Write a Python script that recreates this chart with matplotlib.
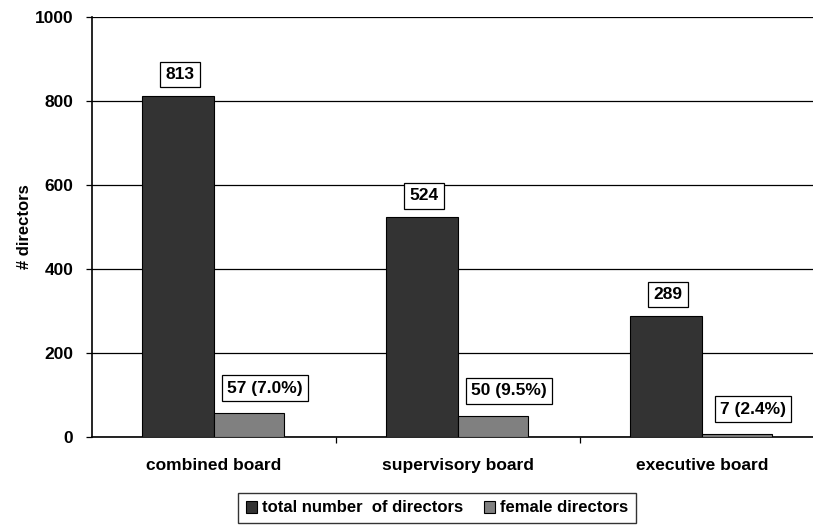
import matplotlib.pyplot as plt
import numpy as np

plt.rcParams['font.family'] = ['Liberation Sans', 'DejaVu Sans']
plt.rcParams['font.weight'] = 'bold'

categories = ['combined board', 'supervisory board', 'executive board']
total = [813, 524, 289]
female = [57, 50, 7]
female_labels = ['57 (7.0%)', '50 (9.5%)', '7 (2.4%)']
yticks = [0, 200, 400, 600, 800, 1000]

fig = plt.figure(figsize=(8.13, 5.26), dpi=100)
ax = fig.add_axes([92/813, 89/526, 732/813, 420/526])

x = np.arange(len(categories))
ax.bar(x - 0.147, total, 0.293, color='#333333', edgecolor='black', linewidth=0.8,
       label='total number  of directors', zorder=3)
ax.bar(x + 0.143, female, 0.287, color='#808080', edgecolor='black', linewidth=0.8,
       label='female directors', zorder=3)

box = dict(boxstyle='square,pad=0.3', facecolor='white', edgecolor='black', linewidth=0.9)
for xi, v in zip(x, total):
    ax.annotate(str(v), (xi - 0.14, v), xytext=(0, 21), textcoords='offset pixels',
                ha='center', va='center', fontsize=12.5, fontweight='bold', bbox=box, zorder=4)
for xi, v, lab in zip(x, female, female_labels):
    ax.annotate(lab, (xi + 0.21, v), xytext=(0, 25), textcoords='offset pixels',
                ha='center', va='center', fontsize=12.5, fontweight='bold', bbox=box, zorder=4)

ax.set_xlim(-0.5, 2.5)
ax.set_ylim(0, 1000)
ax.set_yticks(yticks)
ax.yaxis.grid(True, color='black', linewidth=0.9, zorder=0)
ax.set_axisbelow(True)
ax.tick_params(axis='y', labelsize=12.5, length=4.5, width=0.9, direction='out', pad=9)
ax.set_xticks([0.5, 1.5])
ax.set_xticklabels([])
ax.tick_params(axis='x', length=4.5, width=0.9, direction='out')
ax.set_xticks(x, minor=True)
ax.set_xticklabels(categories, minor=True, fontsize=12.5, fontweight='bold')
ax.tick_params(axis='x', which='minor', length=0, pad=15)
for lab in ax.get_yticklabels():
    lab.set_fontweight('bold')

ax.spines['top'].set_visible(False)
ax.spines['right'].set_visible(False)
ax.spines['left'].set_linewidth(1.2)
ax.spines['bottom'].set_linewidth(1.2)
ax.set_ylabel('# directors', fontsize=12, fontweight='bold', labelpad=2)

leg = fig.legend(loc='center', bbox_to_anchor=(437/813, 1 - 508/526), ncol=2,
                 fontsize=12, frameon=True, fancybox=False, handlelength=0.7,
                 handleheight=0.7, handletextpad=0.3, columnspacing=1.2,
                 borderpad=0.45)
leg.get_frame().set_edgecolor('black')
leg.get_frame().set_linewidth(1.0)
for t in leg.get_texts():
    t.set_fontweight('bold')

fig.savefig('out.png', dpi=100)
